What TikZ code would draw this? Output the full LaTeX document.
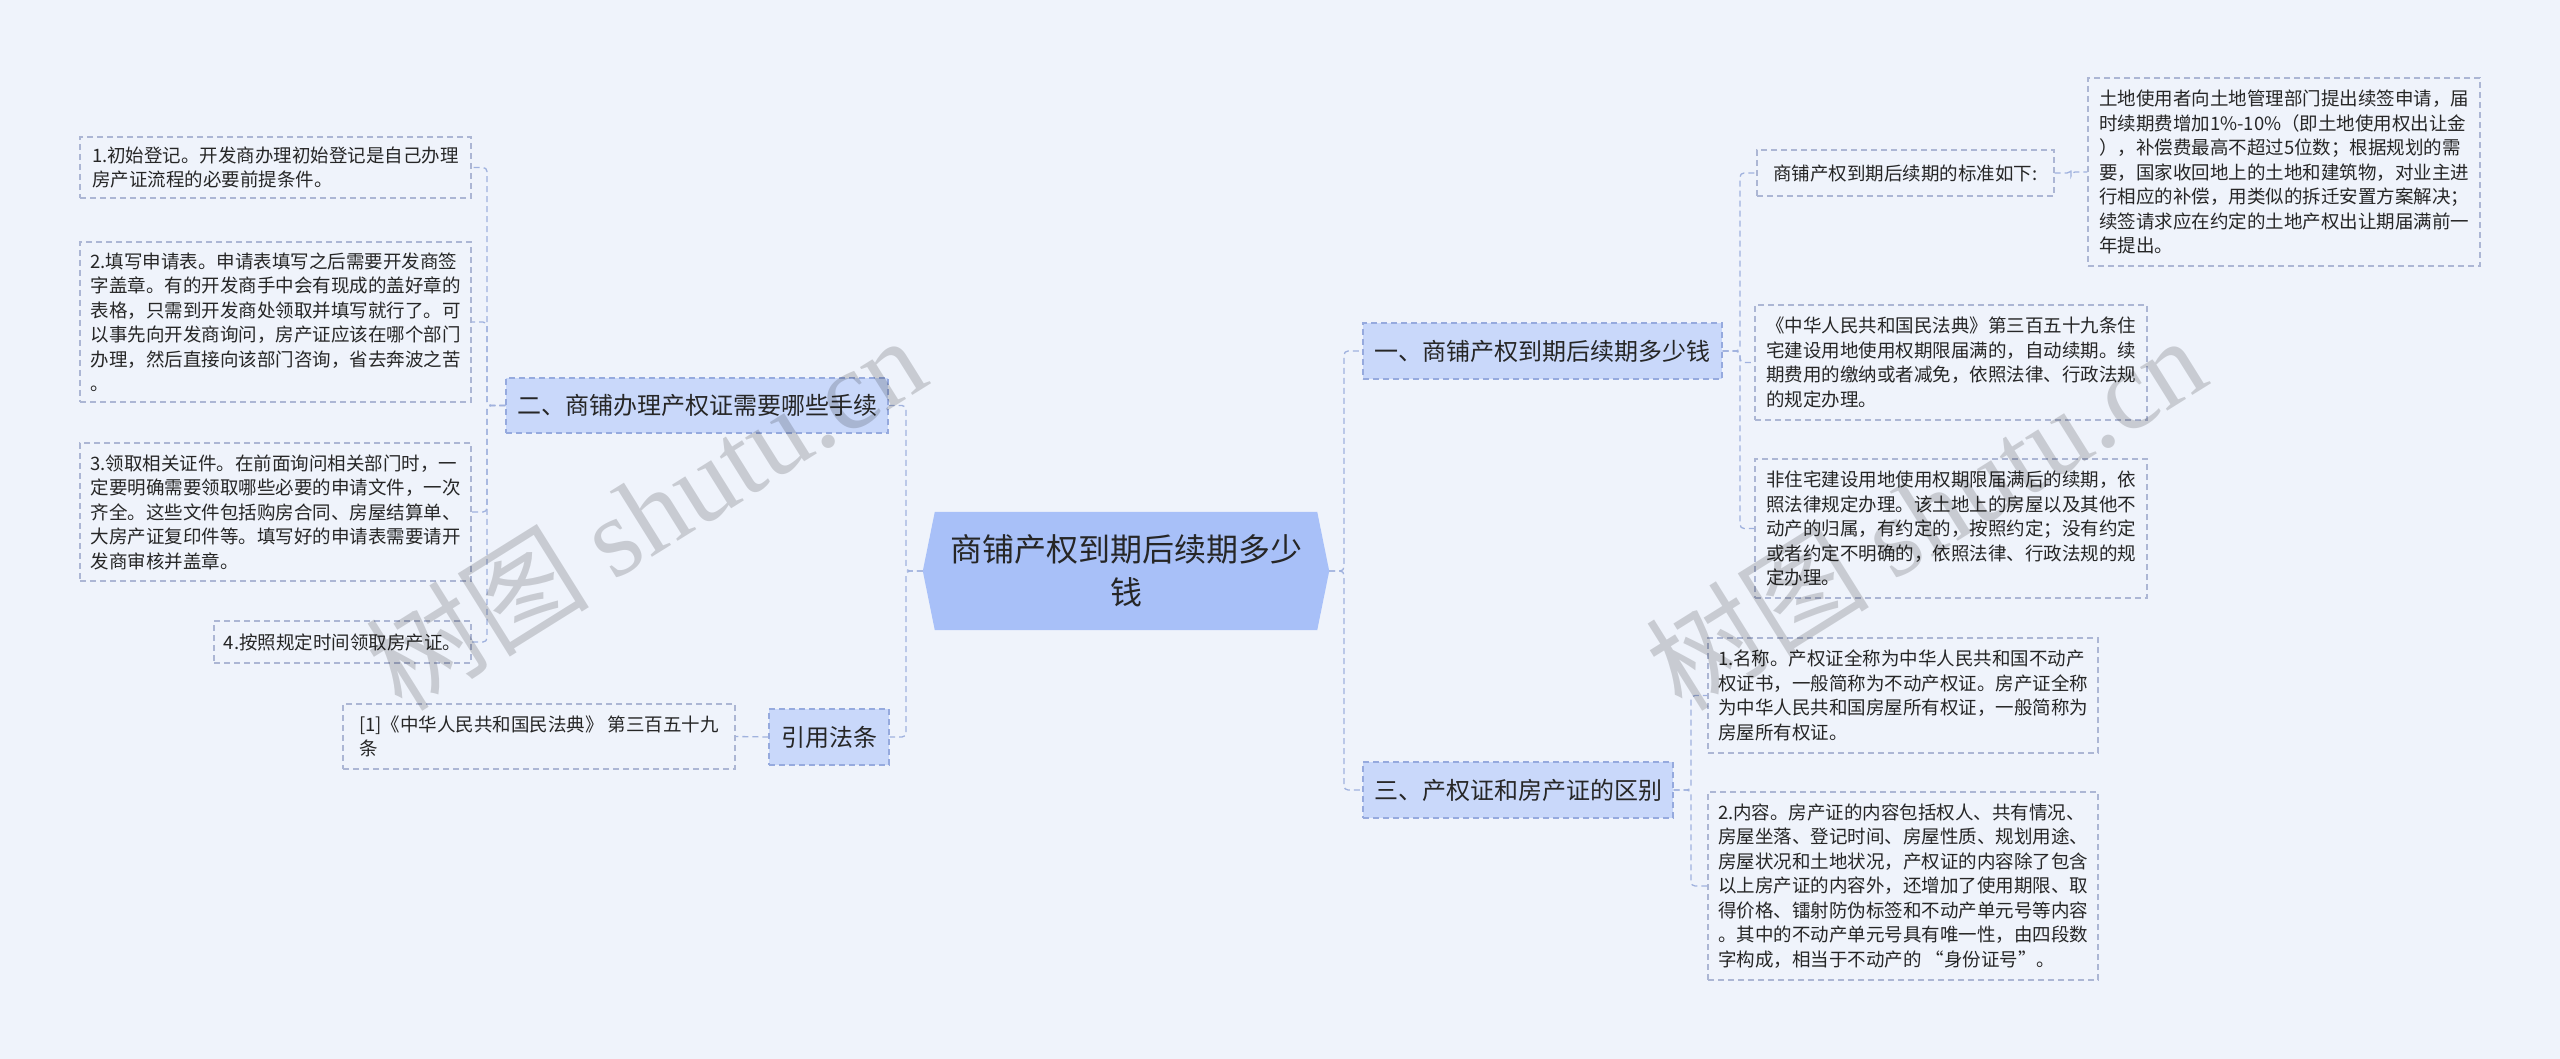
\documentclass[tikz,border=0pt]{standalone}
\usepackage{fontspec}
\setmainfont{Noto Sans CJK SC}
\newfontfamily\wmserif{Liberation Serif}
\usetikzlibrary{backgrounds}
\definecolor{bgc}{RGB}{239,243,251}
\definecolor{rootfill}{RGB}{168,192,248}
\definecolor{lonefill}{RGB}{201,216,250}
\definecolor{loneline}{RGB}{150,170,222}
\definecolor{leafline}{RGB}{172,182,212}
\definecolor{connc}{RGB}{160,178,222}
\definecolor{txt}{RGB}{38,38,38}
\tikzset{
  roottext/.style={align=center, text=txt, inner sep=0pt, minimum width=406pt, minimum height=118pt,
    font={\fontsize{32}{43}\selectfont}},
  lone/.style={draw=loneline, dash pattern=on 6pt off 4pt, line width=1.1pt, fill=lonefill,
    text=txt, inner sep=0pt, font={\fontsize{24}{30}\selectfont}},
  leaf/.style={draw=leafline, dash pattern=on 6pt off 4pt, line width=1.1pt, fill=bgc,
    text=txt, inner sep=0pt, align=left, font={\fontsize{18.5}{24.5}\selectfont}},
  conn/.style={draw=connc, line width=1.3pt, dash pattern=on 6pt off 4pt, rounded corners=4pt},
  wm/.style={text=black, opacity=0.16, rotate=32, inner sep=0pt, font={\fontsize{112}{112}\selectfont}}
}
\begin{document}
\begin{tikzpicture}[x=1pt,y=-1pt]
\useasboundingbox (0,0) rectangle (2560,1059);

% root
\node[roottext] (root) at (1126,571) {商铺产权到期后续期多少\\钱};
\begin{scope}[on background layer]
\fill[bgc] (0,0) rectangle (2560,1059);
\fill[rootfill] ([xshift=12pt]root.north west) -- ([xshift=-12pt]root.north east) -- (root.east)
  -- ([xshift=-12pt]root.south east) -- ([xshift=12pt]root.south west) -- (root.west) -- cycle;
\end{scope}

% level 1
\node[lone, minimum width=382pt, minimum height=55pt] (n2) at (697,405.5) {二、商铺办理产权证需要哪些手续};
\node[lone, minimum width=120pt, minimum height=56pt] (nref) at (829,737) {引用法条};
\node[lone, minimum width=359pt, minimum height=56pt] (n1) at (1542.5,351) {一、商铺产权到期后续期多少钱};
\node[lone, minimum width=310pt, minimum height=56pt] (n3) at (1518,790) {三、产权证和房产证的区别};

% left leaves
\node[leaf, minimum width=391pt, minimum height=61pt] (b1) at (275.5,167.5) {1.初始登记。开发商办理初始登记是自己办理\\房产证流程的必要前提条件。};
\node[leaf, minimum width=391pt, minimum height=160pt] (b2) at (275.5,322) {2.填写申请表。申请表填写之后需要开发商签\\字盖章。有的开发商手中会有现成的盖好章的\\表格，只需到开发商处领取并填写就行了。可\\以事先向开发商询问，房产证应该在哪个部门\\办理，然后直接向该部门咨询，省去奔波之苦\\。};
\node[leaf, minimum width=391pt, minimum height=138pt] (b3) at (275.5,512) {3.领取相关证件。在前面询问相关部门时，一\\定要明确需要领取哪些必要的申请文件，一次\\齐全。这些文件包括购房合同、房屋结算单、\\大房产证复印件等。填写好的申请表需要请开\\发商审核并盖章。};
\node[leaf, minimum width=257pt, minimum height=42pt] (b4) at (342.5,642) {4.按照规定时间领取房产证。};
\node[leaf, minimum width=392pt, minimum height=65pt] (bref) at (539,736.5) {[1]《中华人民共和国民法典》 第三百五十九\\条};

% right leaves
\node[leaf, minimum width=297pt, minimum height=46pt] (bs) at (1905.5,173) {商铺产权到期后续期的标准如下:};
\node[leaf, minimum width=392pt, minimum height=188pt] (bbig) at (2284,172) {土地使用者向土地管理部门提出续签申请，届\\时续期费增加1\%-10\%（即土地使用权出让金\\），补偿费最高不超过5位数；根据规划的需\\要，国家收回地上的土地和建筑物，对业主进\\行相应的补偿，用类似的拆迁安置方案解决；\\续签请求应在约定的土地产权出让期届满前一\\年提出。};
\node[leaf, minimum width=392pt, minimum height=115pt] (bmf) at (1951,362.5) {《中华人民共和国民法典》第三百五十九条住\\宅建设用地使用权期限届满的，自动续期。续\\期费用的缴纳或者减免，依照法律、行政法规\\的规定办理。};
\node[leaf, minimum width=392pt, minimum height=139pt] (bfz) at (1951,528.5) {非住宅建设用地使用权期限届满后的续期，依\\照法律规定办理。该土地上的房屋以及其他不\\动产的归属，有约定的，按照约定；没有约定\\或者约定不明确的，依照法律、行政法规的规\\定办理。};
\node[leaf, minimum width=390pt, minimum height=115pt] (bmc) at (1903,695.5) {1.名称。产权证全称为中华人民共和国不动产\\权证书，一般简称为不动产权证。房产证全称\\为中华人民共和国房屋所有权证，一般简称为\\房屋所有权证。};
\node[leaf, minimum width=390pt, minimum height=188pt] (bnr) at (1903,886) {2.内容。房产证的内容包括权人、共有情况、\\房屋坐落、登记时间、房屋性质、规划用途、\\房屋状况和土地状况，产权证的内容除了包含\\以上房产证的内容外，还增加了使用期限、取\\得价格、镭射防伪标签和不动产单元号等内容\\。其中的不动产单元号具有唯一性，由四段数\\字构成，相当于不动产的 “身份证号”。};

% trunk coordinates
\coordinate (tRL) at (906,0);
\coordinate (tRR) at (1344,0);
\coordinate (t2) at (487,0);
\coordinate (t1) at (1740,0);
\coordinate (tS) at (2071,0);
\coordinate (t3) at (1691,0);

% connectors
\draw[conn] (root.west) -- (root.west -| tRL) |- (n2.east);
\draw[conn] (root.west) -- (root.west -| tRL) |- (nref.east);
\draw[conn] (root.east) -- (root.east -| tRR) |- (n1.west);
\draw[conn] (root.east) -- (root.east -| tRR) |- (n3.west);

\foreach \b in {b1,b2,b3,b4}{
  \draw[conn] (n2.west) -- (n2.west -| t2) |- (\b.east);
}
\draw[conn] (nref.west) -- (bref.east);

\foreach \b in {bs,bmf,bfz}{
  \draw[conn] (n1.east) -- (n1.east -| t1) |- (\b.west);
}
\draw[conn] (bs.east) -- (bs.east -| tS) |- (bbig.west);

\foreach \b in {bmc,bnr}{
  \draw[conn] (n3.east) -- (n3.east -| t3) |- (\b.west);
}

% watermarks
\node[wm] (wm1) at (645,512) {树图 {\wmserif shutu.cn}};
\node[wm] (wm2) at (1925,512) {树图 {\wmserif shutu.cn}};
\end{tikzpicture}
\end{document}
